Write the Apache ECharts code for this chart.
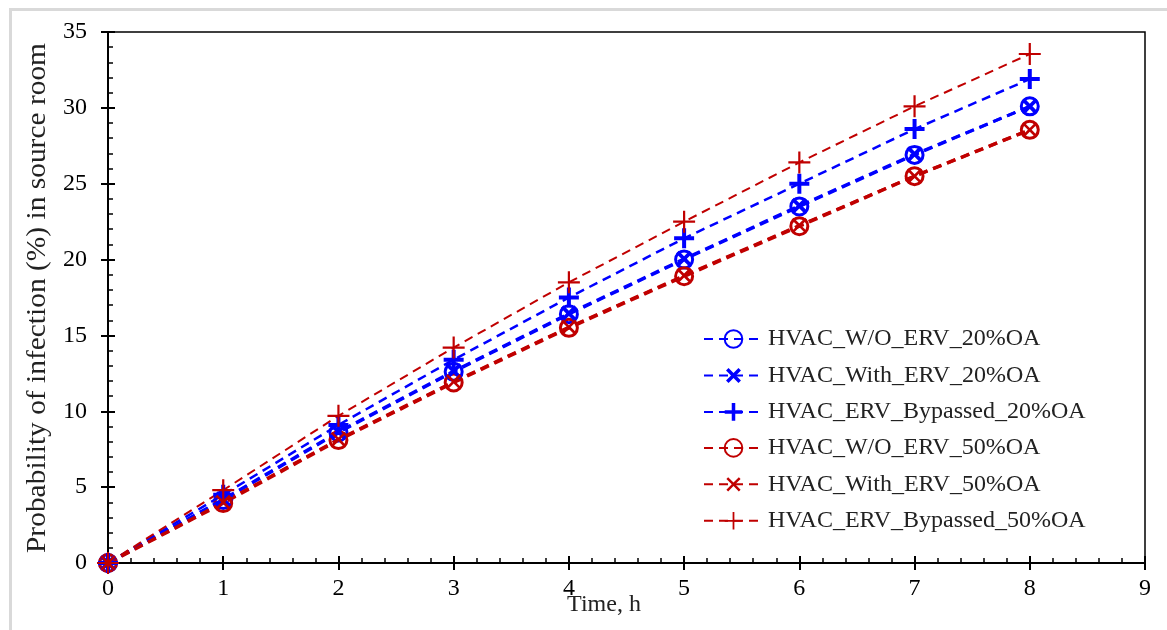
<!DOCTYPE html>
<html><head><meta charset="utf-8">
<script src="https://cdn.jsdelivr.net/npm/echarts@6/dist/echarts.min.js"></script>
<style>html,body{margin:0;padding:0;background:#fff}#c{width:1167px;height:630px}</style>
</head><body><div id="c"></div>
<script>
var hours = [0, 1, 2, 3, 4, 5, 6, 7, 8];
var woErv20 = [0, 4.15, 8.6, 12.6, 16.4, 20.0, 23.5, 26.9, 30.1];
var withErv20 = [0, 4.2, 8.65, 12.65, 16.45, 20.05, 23.55, 26.95, 30.1];
var bypass20 = [0, 4.5, 9.1, 13.4, 17.5, 21.4, 25.0, 28.6, 31.9];
var woErv50 = [0, 3.95, 8.1, 11.9, 15.5, 18.9, 22.2, 25.5, 28.55];
var withErv50 = [0, 4.0, 8.15, 11.95, 15.55, 18.95, 22.25, 25.5, 28.55];
var bypass50 = [0, 4.8, 9.7, 14.2, 18.5, 22.5, 26.4, 30.1, 33.55];
var names = ['HVAC_W/O_ERV_20%OA','HVAC_With_ERV_20%OA','HVAC_ERV_Bypassed_20%OA','HVAC_W/O_ERV_50%OA','HVAC_With_ERV_50%OA','HVAC_ERV_Bypassed_50%OA'];

var BLUE = '#0000ff', RED = '#c00000';
var FONT = '"Liberation Serif", "Times New Roman", serif';
var plusThick = 'path://M4,0H6V4H10V6H6V10H4V6H0V4H4Z';
var plusThin = 'path://M4.5,0H5.5V4.5H10V5.5H5.5V10H4.5V5.5H0V4.5H4.5Z';
var plusMid = 'path://M4.3,0H5.7V4.3H10V5.7H5.7V10H4.3V5.7H0V4.3H4.3Z';

function pts(arr){ return hours.map(function(h,i){ return [h, arr[i]]; }); }
function mk(name, arr, color, lw, symbol, size, rot, circle, z){
  return {
    name: name, type: 'line', data: pts(arr), z: z,
    symbol: symbol, symbolSize: size, symbolRotate: rot || 0,
    lineStyle: { color: color, width: lw, type: [9, 6] },
    itemStyle: circle ? { color: '#ffffff00', borderColor: color, borderWidth: 3 } : { color: color, borderWidth: 0 },
    emphasis: { disabled: true }
  };
}

var series = [
  mk(names[0], woErv20, BLUE, 3, 'circle', 17, 0, true, 2),
  mk(names[1], withErv20, BLUE, 3, plusThick, 19, 45, false, 3),
  mk(names[2], bypass20, BLUE, 2.5, plusThick, 20, 0, false, 3),
  mk(names[3], woErv50, RED, 3.5, 'circle', 17, 0, true, 2),
  mk(names[4], withErv50, RED, 3, plusMid, 19, 45, false, 3),
  mk(names[5], bypass50, RED, 2, plusThin, 22, 0, false, 3)
];

var axisLbl = { fontFamily: FONT, fontSize: 24, color: '#000' };
var chart = echarts.init(document.getElementById('c'));
chart.setOption({
  animation: false,
  backgroundColor: '#fff',
  grid: { left: 108, right: 22, top: 32, bottom: 67, show: true, borderColor: '#000', borderWidth: 1.5, backgroundColor: 'transparent' },
  legend: {
    orient: 'vertical', left: 698, top: 322, itemWidth: 59, itemHeight: 22, itemGap: 12,
    textStyle: { fontFamily: FONT, fontSize: 24, color: '#222' },
    data: names
  },
  xAxis: [{
    type: 'value', min: 0, max: 9, interval: 1,
    axisLine: { lineStyle: { color: '#000', width: 2 } },
    axisTick: { inside: true, length: 7, lineStyle: { color: '#000', width: 2 } },
    minorTick: { show: true, splitNumber: 5, length: 5, lineStyle: { color: '#000', width: 1.5 } },
    splitLine: { show: false },
    axisLabel: Object.assign({ margin: 14 }, axisLbl)
  }, {
    type: 'value', min: 0, max: 9, interval: 1, position: 'bottom',
    axisLine: { show: false },
    axisTick: { inside: false, length: 7, lineStyle: { color: '#000', width: 2 } },
    splitLine: { show: false }, axisLabel: { show: false }
  }],
  yAxis: [{
    type: 'value', min: 0, max: 35, interval: 5,
    axisLine: { show: true, lineStyle: { color: '#000', width: 2 } },
    axisTick: { show: true, inside: true, length: 7, lineStyle: { color: '#000', width: 2 } },
    minorTick: { show: true, splitNumber: 5, length: 5, lineStyle: { color: '#000', width: 1.5 } },
    splitLine: { show: false },
    axisLabel: Object.assign({ margin: 21 }, axisLbl)
  }, {
    type: 'value', min: 0, max: 35, interval: 5, position: 'left',
    axisLine: { show: false },
    axisTick: { show: true, inside: false, length: 7, lineStyle: { color: '#000', width: 2 } },
    splitLine: { show: false }, axisLabel: { show: false }
  }],
  series: series,
  graphic: [
    { type: 'rect', left: 8, top: 7, shape: { width: 1200, height: 700 }, style: { fill: 'none', stroke: '#d9d9d9', lineWidth: 3 }, silent: true, z: -10 },
    { type: 'text', x: 604, y: 605, style: { text: 'Time, h', font: '24px ' + FONT, fill: '#222', align: 'center', verticalAlign: 'middle' } },
    { type: 'text', x: 38, y: 298, rotation: Math.PI / 2, scaleX: 1.09, style: { text: 'Probability of infection (%) in source room', font: '27px ' + FONT, fill: '#222', align: 'center', verticalAlign: 'middle' } }
  ]
});
</script>
</body></html>
